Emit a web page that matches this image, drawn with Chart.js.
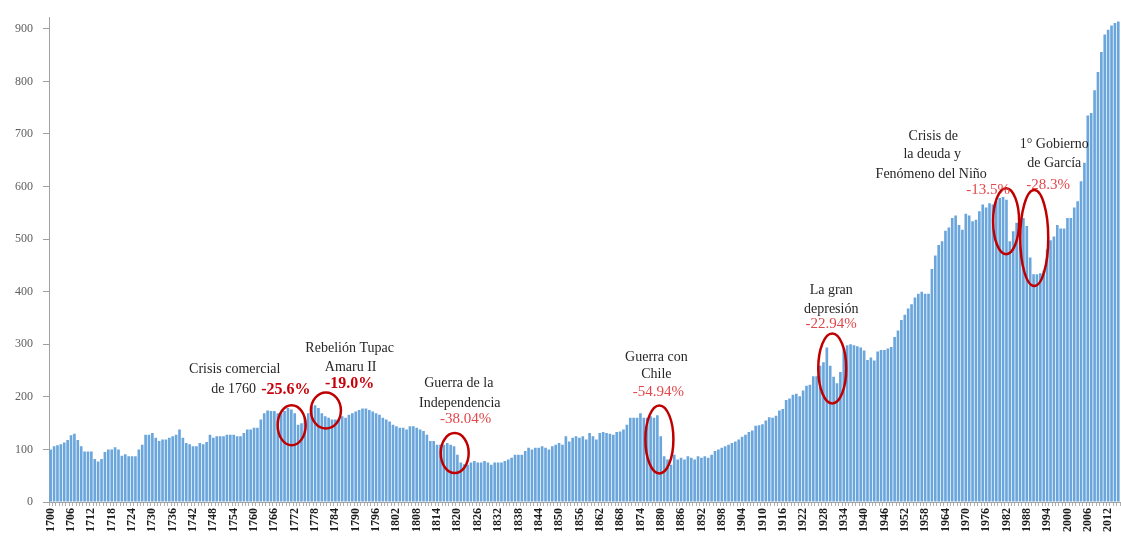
<!DOCTYPE html>
<html>
<head>
<meta charset="utf-8">
<script src="https://cdn.jsdelivr.net/npm/chart.js@4.4.1/dist/chart.umd.min.js"></script>
<style>
	html, body { margin: 0; padding: 0; background: #fff; }
	#wrap { width: 1121px; height: 541px; position: relative; }
</style>
</head>
<body>
<div id="wrap"><canvas id="pbi-chart"></canvas></div>
<script>
	/** 연도 (1700 - 2015) **/
	const firstYear = 1700;
	const lastYear = 2015;
	let years = [];
	for (let y = firstYear; y <= lastYear; y++) years.push(String(y));

	/** 값 (10년 단위로 나눔) **/
	const values1700s = [100, 106, 108, 110, 113, 118, 127, 130, 118, 106];
	const values1710s = [96, 96, 96, 82, 77, 82, 95, 100, 100, 104];
	const values1720s = [100, 88, 91, 87, 87, 87, 100, 109, 128, 128];
	const values1730s = [131, 122, 116, 119, 119, 122, 125, 128, 138, 122];
	const values1740s = [112, 110, 106, 106, 112, 110, 114, 128, 122, 125];
	const values1750s = [125, 125, 128, 128, 128, 125, 125, 131, 138, 138];
	const values1760s = [141, 141, 157, 169, 174, 173, 173, 169, 169, 173];
	const values1770s = [179, 176, 169, 147, 150, 160, 169, 182, 184, 179];
	const values1780s = [169, 163, 160, 157, 157, 157, 163, 160, 166, 169];
	const values1790s = [172, 175, 178, 178, 175, 172, 169, 166, 160, 157];
	const values1800s = [153, 147, 144, 141, 141, 138, 144, 144, 141, 138];
	const values1810s = [135, 128, 116, 116, 109, 109, 109, 112, 109, 106];
	const values1820s = [90, 75, 72, 71, 75, 78, 75, 75, 78, 75];
	const values1830s = [71, 75, 75, 75, 78, 81, 84, 90, 90, 90];
	const values1840s = [97, 103, 100, 103, 103, 106, 103, 100, 106, 109];
	const values1850s = [112, 109, 125, 115, 122, 125, 122, 125, 119, 131];
	const values1860s = [125, 119, 131, 133, 131, 130, 128, 133, 134, 138];
	const values1870s = [147, 160, 160, 160, 169, 160, 160, 163, 160, 165];
	const values1880s = [125, 87, 81, 71, 90, 81, 84, 81, 87, 84];
	const values1890s = [81, 87, 84, 87, 84, 90, 97, 100, 103, 106];
	const values1900s = [109, 112, 115, 119, 124, 128, 133, 136, 145, 146];
	const values1910s = [148, 155, 161, 160, 164, 174, 177, 194, 197, 204];
	const values1920s = [206, 201, 212, 221, 223, 239, 239, 259, 266, 294];
	const values1930s = [259, 238, 226, 247, 291, 298, 300, 298, 296, 294];
	const values1940s = [288, 270, 275, 269, 286, 289, 289, 292, 295, 314];
	const values1950s = [326, 346, 356, 368, 376, 389, 396, 400, 396, 396];
	const values1960s = [443, 469, 489, 496, 516, 522, 540, 545, 527, 518];
	const values1970s = [548, 545, 534, 537, 553, 566, 560, 568, 566, 572];
	const values1980s = [578, 580, 575, 496, 515, 531, 531, 540, 525, 465];
	const values1990s = [433, 433, 435, 440, 480, 498, 505, 527, 520, 520];
	const values2000s = [540, 540, 560, 572, 610, 645, 735, 740, 783, 818];
	const values2010s = [856, 889, 898, 906, 911, 914];

	const values = [].concat(values1700s, values1710s, values1720s, values1730s, values1740s,
		values1750s, values1760s, values1770s, values1780s, values1790s, values1800s,
		values1810s, values1820s, values1830s, values1840s, values1850s, values1860s,
		values1870s, values1880s, values1890s, values1900s, values1910s, values1920s,
		values1930s, values1940s, values1950s, values1960s, values1970s, values1980s,
		values1990s, values2000s, values2010s);

	/** 주석 (연도, 값 위치) **/
	const noteTexts = [
		{year: 1754.3, val: 252, text: 'Crisis comercial', kind: 'black'},
		{year: 1754.0, val: 214, text: 'de 1760', kind: 'black'},
		{year: 1769.4, val: 214, text: '-25.6%', kind: 'redBold'},
		{year: 1788.2, val: 292, text: 'Rebelión Tupac', kind: 'black'},
		{year: 1788.5, val: 256, text: 'Amaru II', kind: 'black'},
		{year: 1788.2, val: 225, text: '-19.0%', kind: 'redBold'},
		{year: 1820.4, val: 225, text: 'Guerra de la', kind: 'black'},
		{year: 1820.7, val: 188, text: 'Independencia', kind: 'black'},
		{year: 1822.4, val: 157, text: '-38.04%', kind: 'red'},
		{year: 1878.7, val: 275, text: 'Guerra con', kind: 'black'},
		{year: 1878.7, val: 242, text: 'Chile', kind: 'black'},
		{year: 1879.3, val: 210, text: '-54.94%', kind: 'red'},
		{year: 1930.3, val: 402, text: 'La gran', kind: 'black'},
		{year: 1930.3, val: 367, text: 'depresión', kind: 'black'},
		{year: 1930.3, val: 339, text: '-22.94%', kind: 'red'},
		{year: 1960.4, val: 695, text: 'Crisis de', kind: 'black'},
		{year: 1960.1, val: 661, text: 'la deuda y', kind: 'black'},
		{year: 1959.8, val: 623, text: 'Fenómeno del Niño', kind: 'black'},
		{year: 1976.6, val: 593, text: '-13.5%', kind: 'red'},
		{year: 1996.1, val: 680, text: '1° Gobierno', kind: 'black'},
		{year: 1996.1, val: 644, text: 'de García', kind: 'black'},
		{year: 1994.3, val: 602, text: '-28.3%', kind: 'red'}
	];
	const noteCircles = [
		{year: 1771.1, val: 146, rx: 14, ry: 20},
		{year: 1781.2, val: 174, rx: 15, ry: 18},
		{year: 1819.2, val: 93, rx: 14, ry: 20},
		{year: 1879.6, val: 119, rx: 14, ry: 34},
		{year: 1930.6, val: 254, rx: 14, ry: 35},
		{year: 1981.9, val: 534, rx: 13, ry: 33},
		{year: 1990.2, val: 502, rx: 14, ry: 48}
	];
	let noteStyle = {
		black: {font: '14px "Liberation Serif"', color: '#262626'},
		red: {font: '15px "Liberation Serif"', color: '#e2474c'},
		redBold: {font: 'bold 16px "Liberation Serif"', color: '#c8000a'}
	};

	const notesPlugin = {
		id: 'notes',
		afterDatasetsDraw(chart) {
			const ctx = chart.ctx;
			const xs = chart.scales.x;
			const ys = chart.scales.y;
			ctx.save();
			noteCircles.forEach(function(c) {
				ctx.beginPath();
				ctx.ellipse(xs.getPixelForValue(c.year - firstYear), ys.getPixelForValue(c.val), c.rx, c.ry, 0, 0, Math.PI * 2);
				ctx.strokeStyle = '#c00000';
				ctx.lineWidth = 2.5;
				ctx.stroke();
			});
			ctx.textAlign = 'center';
			ctx.textBaseline = 'middle';
			noteTexts.forEach(function(t) {
				ctx.font = noteStyle[t.kind].font;
				ctx.fillStyle = noteStyle[t.kind].color;
				ctx.fillText(t.text, xs.getPixelForValue(t.year - firstYear), ys.getPixelForValue(t.val));
			});
			ctx.restore();
		}
	};

	const pbiCanvas = document.getElementById('pbi-chart');
	let pbiChart = new Chart(pbiCanvas, {
		type: 'bar',
		data: {
			labels: years,
			datasets: [{
				data: values,
				backgroundColor: '#6aa6dc',
				borderWidth: 0,
				barPercentage: 0.78,
				categoryPercentage: 1.0
			}]
		},
		options: {
			responsive: true,
			maintainAspectRatio: false,
			animation: false,
			layout: {padding: {top: 13, right: 1, left: 0, bottom: 0}},
			plugins: {legend: {display: false}, tooltip: {enabled: false}},
			scales: {
				x: {
					afterFit: function(s) {
						s.height = 39;
						s.paddingLeft = 0;
						s.paddingRight = 0;
					},
					grid: {drawOnChartArea: false, tickLength: 4, color: '#b0b0b0'},
					border: {color: '#a0a0a0'},
					ticks: {
						autoSkip: false,
						minRotation: 90,
						maxRotation: 90,
						padding: 2,
						color: '#1a1a1a',
						font: {family: '"Liberation Serif"', size: 12, weight: 'bold'},
						callback: function(v, i) {
							return (i % 6 === 0) ? years[i] : '';
						}
					}
				},
				y: {
					min: 0,
					max: 922,
					afterFit: function(s) { s.width = 49; },
					grid: {drawOnChartArea: false, tickLength: 6, color: '#a0a0a0'},
					border: {color: '#a0a0a0'},
					ticks: {
						stepSize: 100,
						includeBounds: false,
						padding: 10,
						color: '#606060',
						font: {family: '"Liberation Serif"', size: 12}
					}
				}
			}
		},
		plugins: [notesPlugin]
	});
</script>
</body>
</html>
